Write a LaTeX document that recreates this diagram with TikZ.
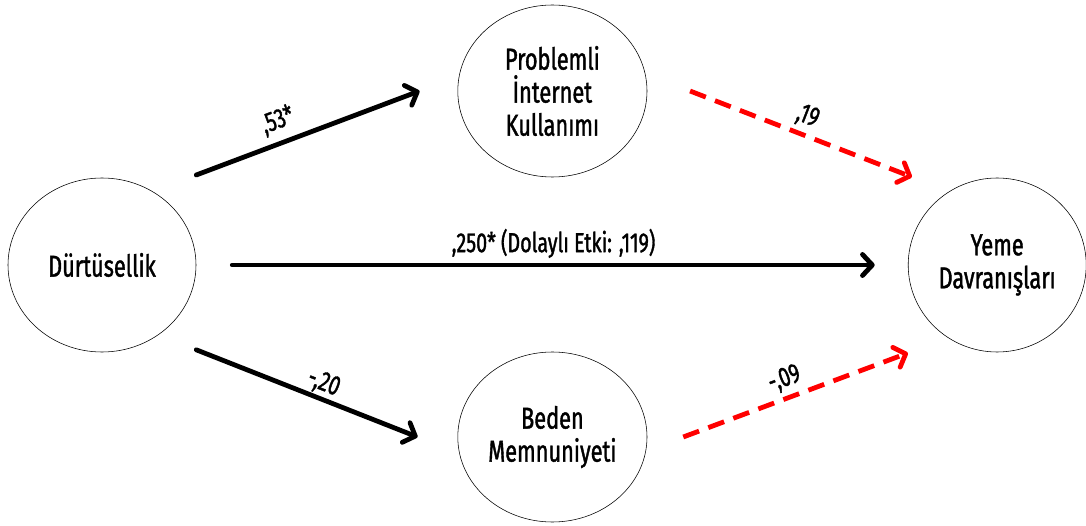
\documentclass[tikz,border=0pt]{standalone}
\usepackage{fontspec}
\setmainfont{Fira Sans}[FakeStretch=0.72, FakeBold=1.3]
\usetikzlibrary{arrows.meta,shapes.geometric}

\begin{document}
\begin{tikzpicture}[
    var/.style={draw, ellipse, thin, inner sep=0pt, minimum width=4.73cm, minimum height=4.3cm, align=center, font=\fontsize{21.5}{23.5}\selectfont},
    path/.style={line width=3.4pt, line cap=round, line join=round, -{Straight Barb[length=7pt, width=15pt, round]}},
    weak/.style={path, red, line cap=butt, dash pattern=on 12pt off 7pt},
    coef/.style={text=black, font=\fontsize{19.5}{21}\selectfont, sloped}
]
\useasboundingbox (0,0) rectangle (27.15,13.125);

% Define nodes
\node[var, minimum width=4.7cm, minimum height=4.35cm] (D) at (2.55,6.5) {Dürtüsellik};
\node[var] (P) at (13.81,10.85) {Problemli\\İnternet\\Kullanımı};
\node[var, minimum height=4.25cm] (B) at (13.81,2.2) {Beden\\Memnuniyeti};
\node[var, minimum width=4.45cm, minimum height=4.35cm] (Y) at (24.93,6.5) {Yeme\\Davranışları};

% Draw edges
\draw[path] ([yshift=2.25cm]D.east) -- ([xshift=-0.95cm]P.west) node[coef, pos=0.4, above=2pt] {,53*};
\draw[path] ([yshift=-2.12cm]D.east) -- ([xshift=-1cm]B.west) node[coef, pos=0.55, above, inner sep=1pt] {-,20};
\draw[path] ([xshift=0.9cm]D.east) -- ([xshift=-0.83cm]Y.west) node[coef, midway, above] {,250* (Dolaylı Etki: ,119)};
\draw[weak] ([xshift=1.07cm]P.east) -- ([xshift=0.1cm, yshift=2.2cm]Y.west) node[coef, midway, above] {,19};
\draw[weak] ([xshift=0.9cm]B.east) -- ([yshift=-2.2cm]Y.west) node[coef, pos=0.48, above] {-,09};
\end{tikzpicture}
\end{document}
